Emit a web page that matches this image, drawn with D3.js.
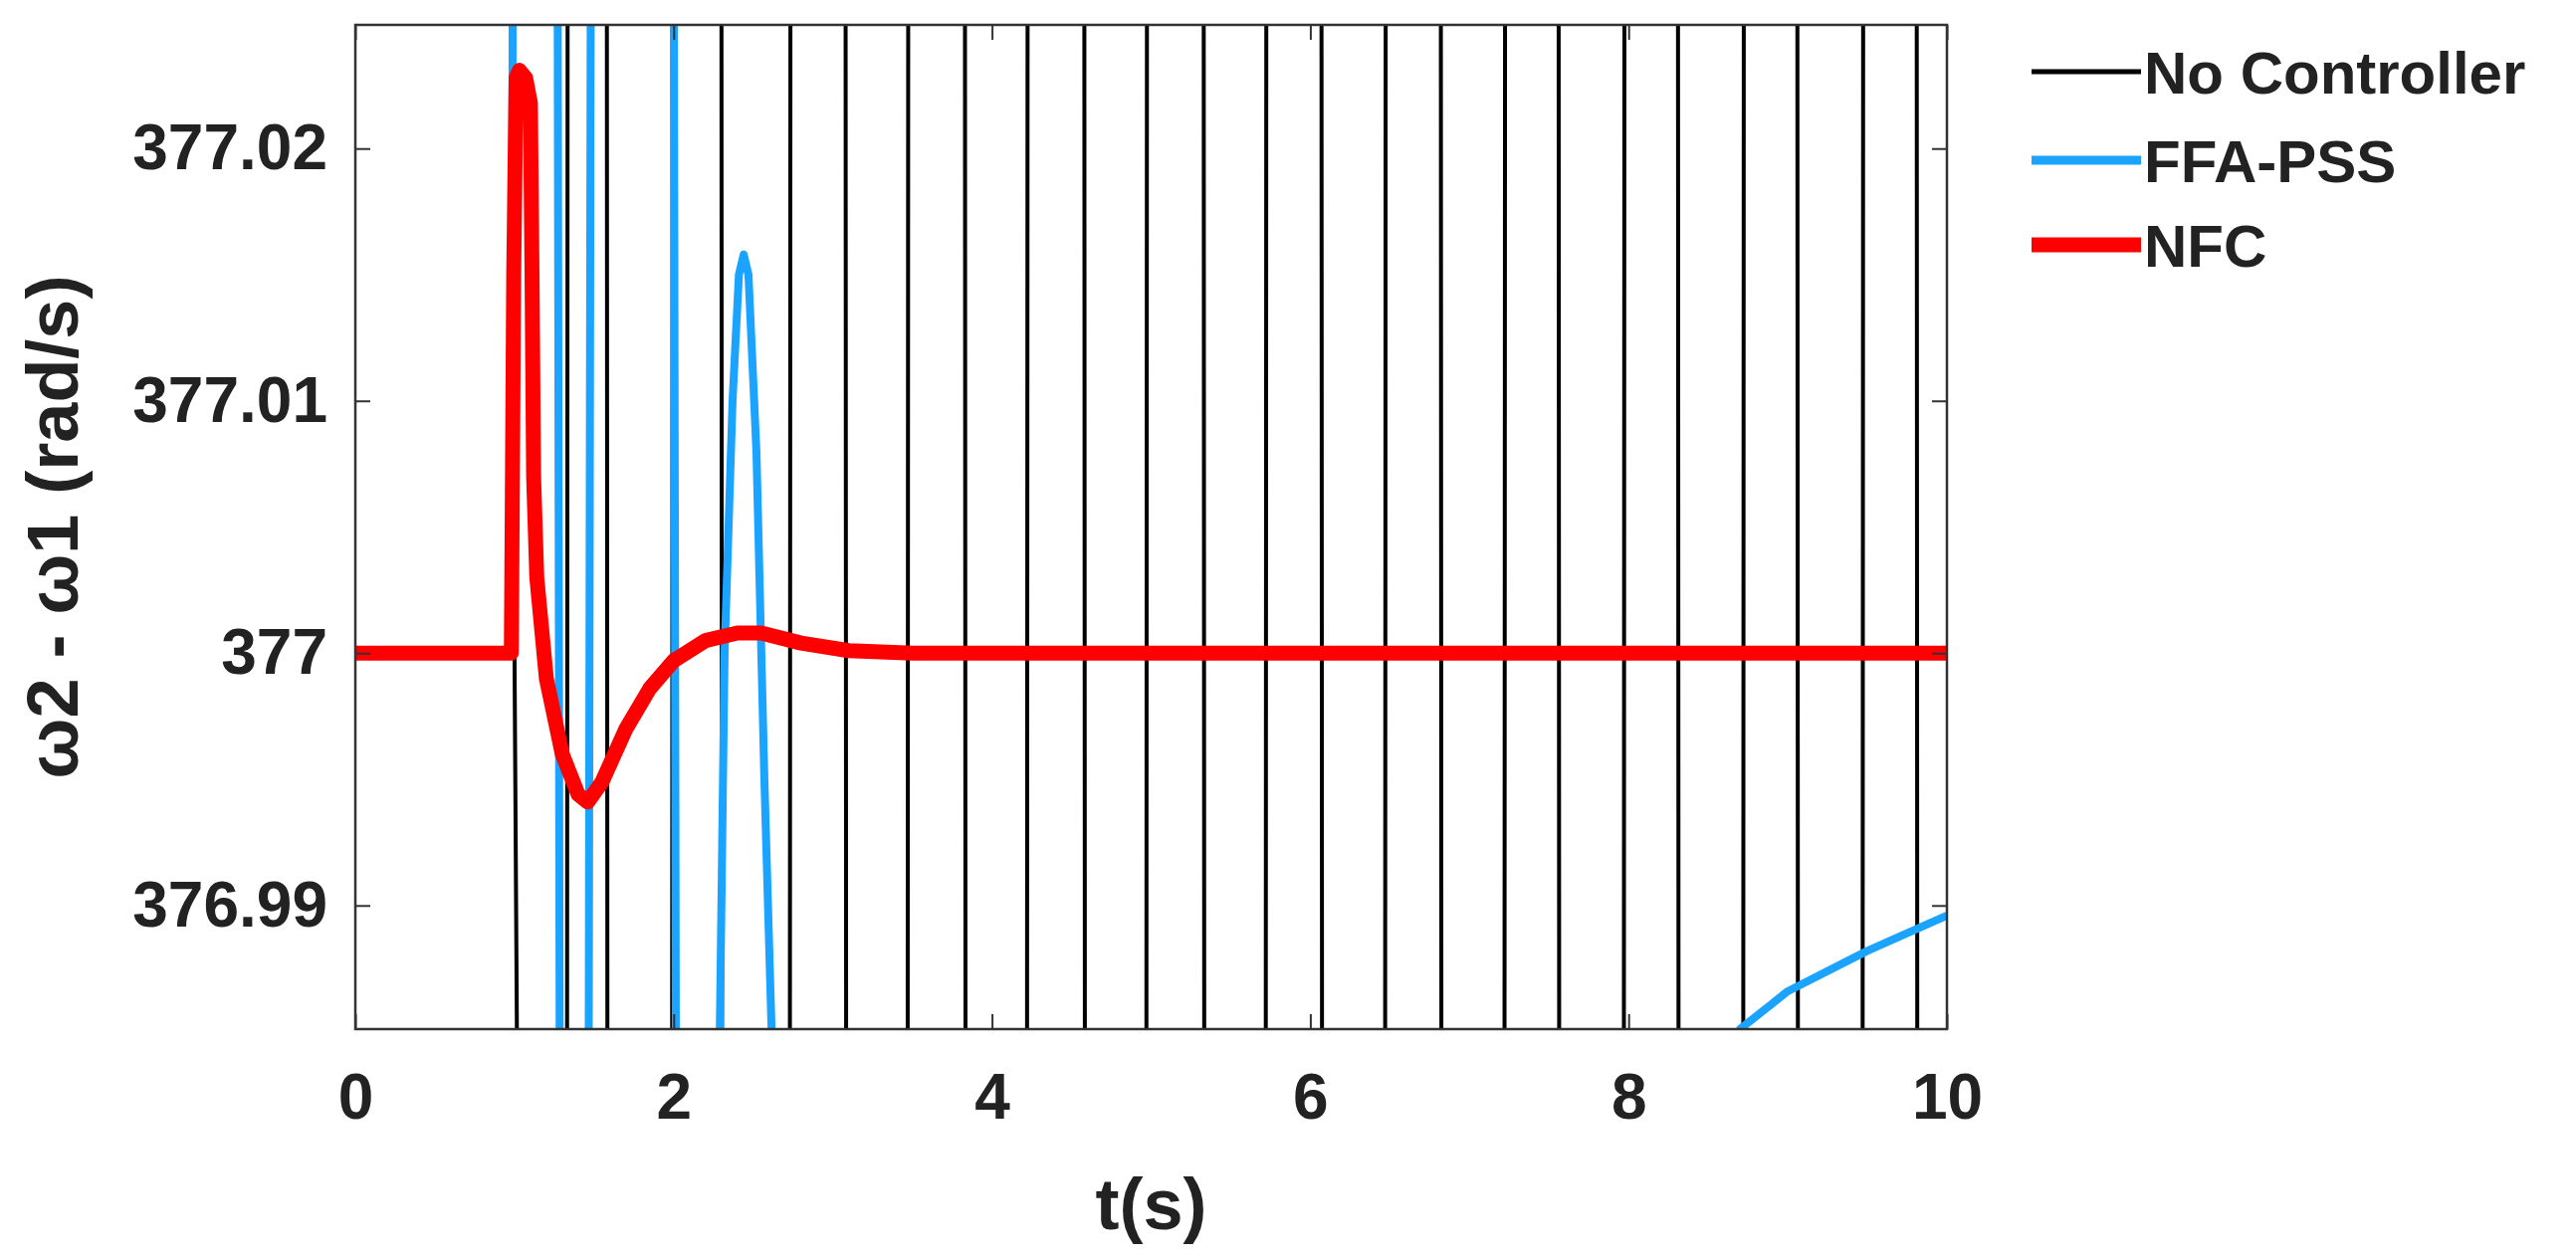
<!DOCTYPE html>
<html>
<head>
<meta charset="utf-8">
<script src="https://cdn.jsdelivr.net/npm/d3@7"></script>
<style>
  body { margin: 0; background: #fff; }
  text { font-family: "Liberation Sans", Arial, sans-serif; font-weight: bold; fill: #222; }
</style>
</head>
<body>
<div id="canvas"></div>
<script>
// series: [t, value]
const noController = [
  [0, 377], [1.0, 377], [1.02, 376.98],
  [1.33, 376.98], [1.334, 377.03], [1.58, 377.03], [1.584, 376.98],
  [1.99, 376.98], [1.994, 377.03], [2.30, 377.03], [2.304, 376.98],
  [2.73, 376.98], [2.734, 377.03], [3.08, 377.03], [3.084, 376.98],
  [3.47, 376.98], [3.474, 377.03], [3.83, 377.03], [3.834, 376.98],
  [4.22, 376.98], [4.224, 377.03], [4.58, 377.03], [4.584, 376.98],
  [4.97, 376.98], [4.974, 377.03], [5.33, 377.03], [5.334, 376.98],
  [5.72, 376.98], [5.724, 377.03], [6.07, 377.03], [6.074, 376.98],
  [6.47, 376.98], [6.474, 377.03], [6.82, 377.03], [6.824, 376.98],
  [7.22, 376.98], [7.224, 377.03], [7.56, 377.03], [7.564, 376.98],
  [7.97, 376.98], [7.974, 377.03], [8.31, 377.03], [8.314, 376.98],
  [8.72, 376.98], [8.724, 377.03], [9.06, 377.03], [9.064, 376.98],
  [9.47, 376.98], [9.474, 377.03], [9.81, 377.03], [9.814, 376.98],
  [10, 376.98]
];
const ffaPss = [
  [0, 377], [0.98, 377], [0.99, 377.03],
  [1.27, 377.03], [1.285, 376.98], [1.465, 376.98], [1.48, 377.03],
  [2.0, 377.03], [2.015, 376.98], [2.28, 376.98], [2.32, 377.0],
  [2.37, 377.010], [2.41, 377.0150], [2.44, 377.0158], [2.47, 377.0150],
  [2.52, 377.008], [2.57, 376.995], [2.62, 376.984], [2.7, 376.975],
  [5.5, 376.95], [8.0, 376.978], [8.7, 376.9851], [9.0, 376.9866],
  [9.5, 376.9882], [10, 376.9896]
];
const nfc = [
  [0, 377], [0.98, 377], [0.995, 377.015], [1.01, 377.0228], [1.03, 377.0231],
  [1.07, 377.0228], [1.10, 377.0218], [1.11, 377.015], [1.12, 377.007],
  [1.14, 377.003], [1.2, 376.9990], [1.3, 376.9960], [1.4, 376.9944],
  [1.46, 376.9941], [1.55, 376.9949], [1.7, 376.9970], [1.85, 376.9986],
  [2.0, 376.9997], [2.2, 377.0005], [2.4, 377.0008], [2.55, 377.0008],
  [2.8, 377.0004], [3.1, 377.0001], [3.5, 377.0], [10, 377]
];
const xTicks = [0, 2, 4, 6, 8, 10];
const yTicks = [376.99, 377, 377.01, 377.02];
const seriesNames = ['No Controller', 'FFA-PSS', 'NFC'];
const seriesColors = ['#000000', '#1AA3FF', '#FF0000'];
const seriesWidths = [4, 8, 15];

const W = 2588, H = 1266;
const mLeft = 357, mRight = 1956, mTop = 25, mBottom = 1034;

const svg = d3.select('#canvas').append('svg')
    .attr('width', W).attr('height', H);

const x = d3.scaleLinear().domain([0, 10]).range([mLeft, mRight]);
const y = d3.scaleLinear().domain([376.9851, 377.0249]).range([mBottom, mTop]);

svg.append('clipPath').attr('id', 'clip')
  .append('rect')
    .attr('x', mLeft).attr('y', mTop)
    .attr('width', mRight - mLeft).attr('height', mBottom - mTop);

const line = d3.line().x(d => x(d[0])).y(d => y(d[1]));

const plot = svg.append('g').attr('clip-path', 'url(#clip)');
[noController, ffaPss, nfc].forEach((s, i) => {
  plot.append('path')
    .datum(s)
    .attr('d', line)
    .attr('fill', 'none')
    .attr('stroke', seriesColors[i])
    .attr('stroke-width', seriesWidths[i])
    .attr('stroke-linejoin', 'round');
});

// axes, ticks inward on all four sides
const tick = 15;
svg.append('g').attr('transform', `translate(0,${mBottom})`)
  .call(d3.axisBottom(x).tickValues(xTicks).tickSizeInner(-tick).tickSizeOuter(0).tickPadding(45))
  .call(g => g.select('.domain').remove())
  .call(g => g.selectAll('text').attr('font-size', 64).attr('fill', '#222'));
svg.append('g').attr('transform', `translate(0,${mTop})`)
  .call(d3.axisTop(x).tickValues(xTicks).tickSizeInner(-tick).tickSizeOuter(0).tickFormat(''))
  .call(g => g.select('.domain').remove());
svg.append('g').attr('transform', `translate(${mLeft},0)`)
  .call(d3.axisLeft(y).tickValues(yTicks).tickSizeInner(-tick).tickSizeOuter(0).tickPadding(28)
    .tickFormat(d => String(+d.toFixed(2))))
  .call(g => g.select('.domain').remove())
  .call(g => g.selectAll('text').attr('font-size', 64).attr('fill', '#222'));
svg.append('g').attr('transform', `translate(${mRight},0)`)
  .call(d3.axisRight(y).tickValues(yTicks).tickSizeInner(-tick).tickSizeOuter(0).tickFormat(''))
  .call(g => g.select('.domain').remove());
svg.selectAll('.tick line').attr('stroke', '#333').attr('stroke-width', 2);

svg.append('rect')
  .attr('x', mLeft).attr('y', mTop)
  .attr('width', mRight - mLeft).attr('height', mBottom - mTop)
  .attr('fill', 'none').attr('stroke', '#333').attr('stroke-width', 2.5);

svg.append('text')
  .attr('x', (mLeft + mRight) / 2).attr('y', 1235)
  .attr('text-anchor', 'middle').attr('font-size', 72)
  .text('t(s)');
svg.append('text')
  .attr('transform', `translate(78,${(mTop + mBottom) / 2}) rotate(-90)`)
  .attr('text-anchor', 'middle').attr('font-size', 72)
  .text('ω2 - ω1 (rad/s)');

// legend
const legend = svg.append('g').attr('transform', 'translate(2041,0)');
seriesNames.forEach((name, i) => {
  const ly = [72, 161, 246][i];
  legend.append('line')
    .attr('x1', 0).attr('x2', 110).attr('y1', ly).attr('y2', ly)
    .attr('stroke', seriesColors[i]).attr('stroke-width', [5, 9, 15][i]);
  legend.append('text')
    .attr('x', 113).attr('y', ly + 22)
    .attr('font-size', 60).attr('fill', '#000')
    .text(name);
});
</script>
</body>
</html>
